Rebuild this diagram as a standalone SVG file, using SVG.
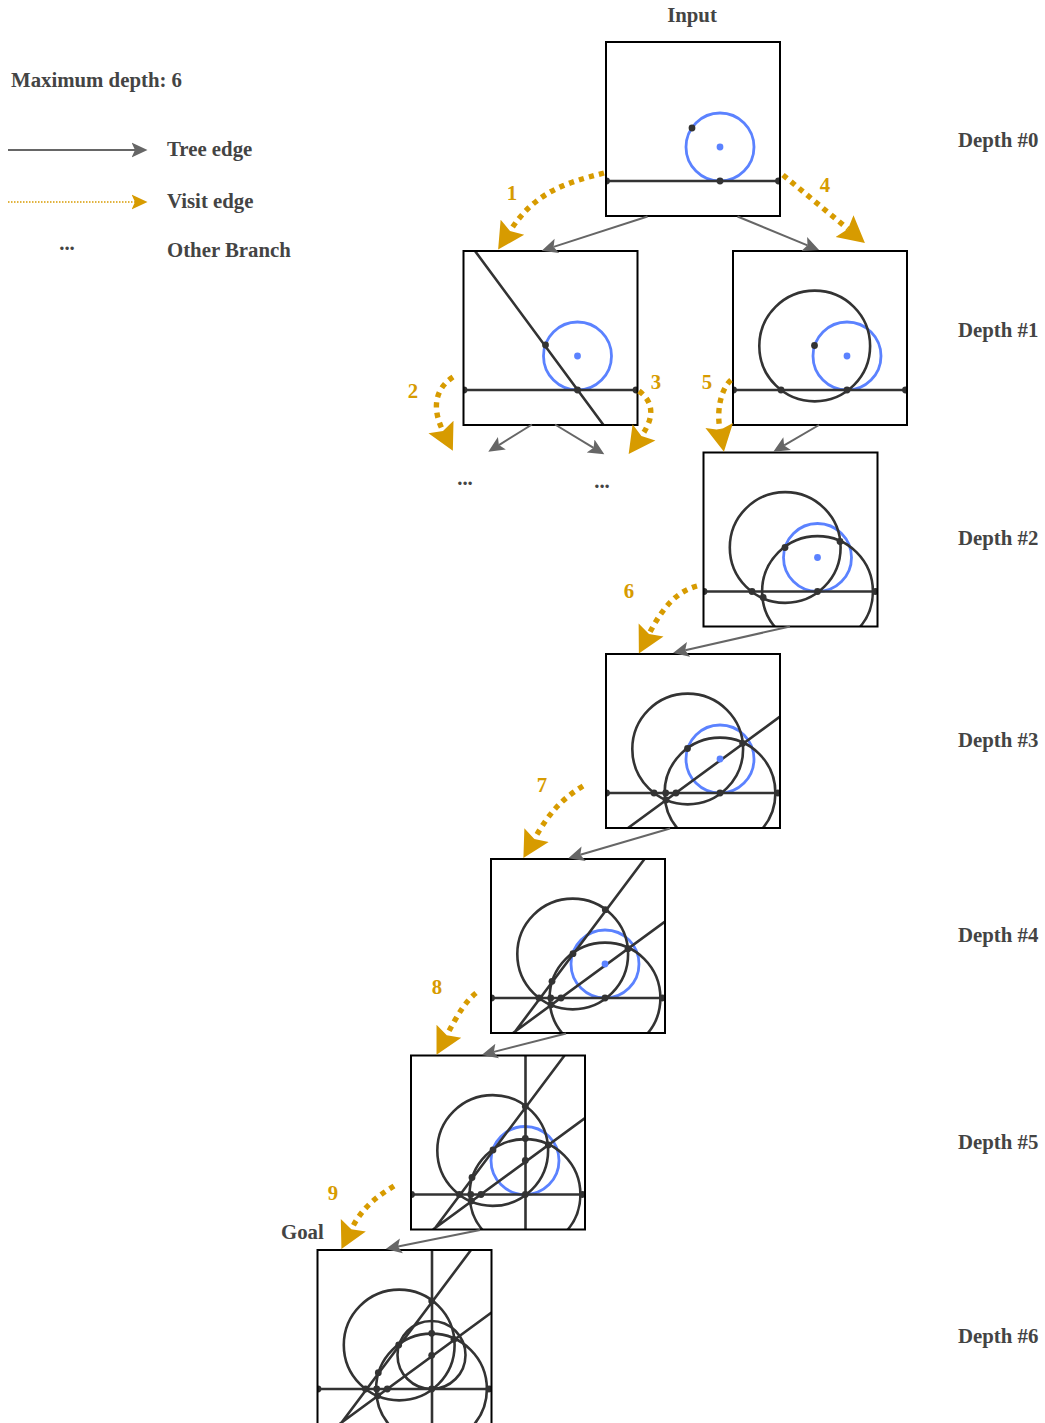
<svg xmlns="http://www.w3.org/2000/svg" width="1045" height="1423" viewBox="0 0 1045 1423">
<style>
text{font-family:"Liberation Serif","Times New Roman",serif;font-weight:bold;font-size:20.8px;fill:#444}
.num{fill:#d79b00;text-anchor:middle}
.mid{text-anchor:middle}
.bg{fill:#fff;stroke:none}
.frame{fill:none;stroke:#000;stroke-width:2}
.k{fill:none;stroke:#333;stroke-width:2.6}
.b{fill:none;stroke:#5b82ff;stroke-width:2.8}
.d{fill:#333}
.bd{fill:#5b82ff}
.tree{fill:none;stroke:#666;stroke-width:2;marker-end:url(#tree)}
.visit{fill:none;stroke:#d79b00;stroke-width:5.4;stroke-dasharray:5.2 5.2;marker-end:url(#visit)}
.mini{fill:none;stroke:#d79b00;stroke-width:1.5;stroke-dasharray:1.5 1.5;marker-end:url(#mini)}
circle.d,circle.bd{r:3.4px}
</style>
<defs>
<clipPath id="p"><rect x="0" y="0" width="174" height="174"/></clipPath>
<marker id="tree" markerUnits="userSpaceOnUse" markerWidth="18" markerHeight="18" viewBox="0 0 18 18" refX="3.5" refY="9" orient="auto"><path d="M0 1.5L16 9L0 16.5L3.5 9Z" fill="#666"/></marker>
<marker id="mini" markerUnits="userSpaceOnUse" markerWidth="18" markerHeight="18" viewBox="0 0 18 18" refX="3.5" refY="9" orient="auto"><path d="M0 1.5L16 9L0 16.5L3.5 9Z" fill="#d79b00"/></marker>
<marker id="visit" markerUnits="userSpaceOnUse" markerWidth="30" markerHeight="30" viewBox="0 0 30 30" refX="4.5" refY="15" orient="auto"><path d="M0 1L26.5 15L0 29L4.5 15Z" fill="#d79b00"/></marker>
</defs>

<g id="legend">
<text x="11" y="86.5">Maximum depth: 6</text>
<path class="tree" d="M8 150H135"/>
<path class="mini" d="M8 202H135"/>
<text class="mid" x="67" y="250">...</text>
<text x="167" y="156">Tree edge</text>
<text x="167" y="208">Visit edge</text>
<text x="167" y="257">Other Branch</text>
</g>

<g id="labels">
<text class="mid" x="692" y="22">Input</text>
<text x="281" y="1239">Goal</text>
<text x="958" y="147">Depth #0</text>
<text x="958" y="337">Depth #1</text>
<text x="958" y="545">Depth #2</text>
<text x="958" y="747">Depth #3</text>
<text x="958" y="942">Depth #4</text>
<text x="958" y="1149">Depth #5</text>
<text x="958" y="1343">Depth #6</text>
<text class="mid" x="465" y="485">...</text>
<text class="mid" x="602" y="488">...</text>
</g>

<g id="node-input" transform="translate(606 42)">
<rect class="bg" width="174" height="174"/>
<g clip-path="url(#p)">
<circle class="b" cx="114" cy="105" r="34"/>
<path class="k" d="M0 139H174"/>
<circle class="bd" cx="114" cy="105" r="3"/>
<circle class="d" cx="86" cy="86" r="3"/><circle class="d" cx="114" cy="139" r="3"/><circle class="d" cx="0.5" cy="139" r="3"/><circle class="d" cx="172.5" cy="139" r="3"/>
</g>
<rect class="frame" width="174" height="174"/>
</g>

<g id="node-1a" transform="translate(463.5 251)">
<rect class="bg" width="174" height="174"/>
<g clip-path="url(#p)">
<circle class="b" cx="114" cy="105" r="34"/>
<path class="k" d="M0 139H174M11.5 0L140 174"/>
<circle class="bd" cx="114" cy="105" r="3"/>
<circle class="d" cx="82" cy="94" r="3"/><circle class="d" cx="114" cy="139" r="3"/><circle class="d" cx="0.5" cy="139" r="3"/><circle class="d" cx="172.5" cy="139" r="3"/>
</g>
<rect class="frame" width="174" height="174"/>
</g>

<g id="node-1b" transform="translate(733 251)">
<rect class="bg" width="174" height="174"/>
<g clip-path="url(#p)">
<circle class="b" cx="114" cy="105" r="34"/>
<circle class="k" cx="81.7" cy="95" r="55.4"/>
<path class="k" d="M0 139H174"/>
<circle class="bd" cx="114" cy="105" r="3"/>
<circle class="d" cx="81.5" cy="94.5" r="3"/><circle class="d" cx="48" cy="139" r="3"/><circle class="d" cx="114" cy="139" r="3"/><circle class="d" cx="0.5" cy="139" r="3"/><circle class="d" cx="172.5" cy="139" r="3"/>
</g>
<rect class="frame" width="174" height="174"/>
</g>

<g id="node-2" transform="translate(703.5 452.5)">
<rect class="bg" width="174" height="174"/>
<g clip-path="url(#p)">
<circle class="b" cx="114" cy="105" r="34"/>
<circle class="k" cx="81.7" cy="95" r="55.4"/>
<circle class="k" cx="114" cy="139" r="55.4"/>
<path class="k" d="M0 139H174"/>
<circle class="bd" cx="114" cy="105" r="3"/>
<circle class="d" cx="81.5" cy="95" r="3"/><circle class="d" cx="48.5" cy="139" r="3"/><circle class="d" cx="59.7" cy="145" r="3"/><circle class="d" cx="114" cy="139" r="3"/><circle class="d" cx="136.5" cy="89" r="3"/><circle class="d" cx="0.5" cy="139" r="3"/><circle class="d" cx="172" cy="139" r="3"/>
</g>
<rect class="frame" width="174" height="174"/>
</g>

<g id="node-3" transform="translate(606 654)">
<rect class="bg" width="174" height="174"/>
<g clip-path="url(#p)">
<circle class="b" cx="114" cy="105" r="34"/>
<circle class="k" cx="81.7" cy="95" r="55.4"/>
<circle class="k" cx="114" cy="139" r="55.4"/>
<path class="k" d="M0 139H174M174 62.6L22 174"/>
<circle class="bd" cx="114" cy="105" r="3"/>
<circle class="d" cx="81.5" cy="94.5" r="3"/><circle class="d" cx="48" cy="139" r="3"/><circle class="d" cx="59.7" cy="139" r="3"/><circle class="d" cx="70" cy="139" r="3"/><circle class="d" cx="60" cy="146" r="3"/><circle class="d" cx="114" cy="139" r="3"/><circle class="d" cx="136.7" cy="89.3" r="3"/><circle class="d" cx="0.5" cy="139" r="3"/><circle class="d" cx="172" cy="139" r="3"/>
</g>
<rect class="frame" width="174" height="174"/>
</g>

<g id="node-4" transform="translate(491 859)">
<rect class="bg" width="174" height="174"/>
<g clip-path="url(#p)">
<circle class="b" cx="114" cy="105" r="34"/>
<circle class="k" cx="81.7" cy="95" r="55.4"/>
<circle class="k" cx="114" cy="139" r="55.4"/>
<path class="k" d="M0 139H174M174 62.6L22 174M153.5 0L23 174"/>
<circle class="bd" cx="114" cy="105" r="3"/>
<circle class="d" cx="114.3" cy="50.7" r="3"/><circle class="d" cx="82" cy="94.7" r="3"/><circle class="d" cx="61" cy="122.3" r="3"/><circle class="d" cx="48" cy="139" r="3"/><circle class="d" cx="59.7" cy="139" r="3"/><circle class="d" cx="70" cy="139" r="3"/><circle class="d" cx="60" cy="145.7" r="3"/><circle class="d" cx="114" cy="139" r="3"/><circle class="d" cx="137" cy="89.7" r="3"/><circle class="d" cx="0.5" cy="139" r="3"/><circle class="d" cx="171.5" cy="139" r="3"/>
</g>
<rect class="frame" width="174" height="174"/>
</g>

<g id="node-5" transform="translate(411 1055.5)">
<rect class="bg" width="174" height="174"/>
<g clip-path="url(#p)">
<circle class="b" cx="114" cy="105" r="34"/>
<circle class="k" cx="81.7" cy="95" r="55.4"/>
<circle class="k" cx="114" cy="139" r="55.4"/>
<path class="k" d="M0 139H174M174 62.6L22 174M153.5 0L23 174M114.5 0V174"/>
<circle class="d" cx="114.3" cy="51" r="3"/><circle class="d" cx="114.3" cy="83" r="3"/><circle class="d" cx="114.3" cy="105" r="3"/><circle class="d" cx="82" cy="94.5" r="3"/><circle class="d" cx="61" cy="122" r="3"/><circle class="d" cx="48.3" cy="139" r="3"/><circle class="d" cx="59.7" cy="139" r="3"/><circle class="d" cx="70" cy="139" r="3"/><circle class="d" cx="60.3" cy="145.5" r="3"/><circle class="d" cx="114.3" cy="139" r="3"/><circle class="d" cx="137.3" cy="89.5" r="3"/><circle class="d" cx="0.5" cy="139" r="3"/><circle class="d" cx="171.5" cy="139" r="3"/>
</g>
<rect class="frame" width="174" height="174"/>
</g>

<g id="node-6" transform="translate(317.5 1250)">
<rect class="bg" width="174" height="174"/>
<g clip-path="url(#p)">
<circle class="k" cx="114" cy="105" r="34"/>
<circle class="k" cx="81.7" cy="95" r="55.4"/>
<circle class="k" cx="114" cy="139" r="55.4"/>
<path class="k" d="M0 139H174M174 62.6L22 174M153.5 0L23 174M114.5 0V174"/>
<circle class="d" cx="114.2" cy="51" r="3"/><circle class="d" cx="114.2" cy="83.3" r="3"/><circle class="d" cx="114.2" cy="105.3" r="3"/><circle class="d" cx="81.2" cy="95" r="3"/><circle class="d" cx="60.8" cy="122.7" r="3"/><circle class="d" cx="48" cy="139" r="3"/><circle class="d" cx="59.2" cy="139" r="3"/><circle class="d" cx="69.8" cy="139" r="3"/><circle class="d" cx="60.2" cy="145.7" r="3"/><circle class="d" cx="114.2" cy="139" r="3"/><circle class="d" cx="136.5" cy="89.3" r="3"/><circle class="d" cx="0.5" cy="139" r="3"/><circle class="d" cx="171.5" cy="139" r="3"/>
</g>
<rect class="frame" width="174" height="174"/>
</g>

<g id="connectors">
<path class="tree" d="M647.5 216.5L553.6 246.9"/>
<path class="tree" d="M737.5 216.5L807.5 245.3"/>
<path class="tree" d="M532 424.5L498.9 445.1"/>
<path class="tree" d="M555 424.5L593.6 447.8"/>
<path class="tree" d="M819 425L784.1 445.4"/>
<path class="tree" d="M790 626.5L685.2 650.2"/>
<path class="tree" d="M670 828.5L580.3 854.7"/>
<path class="tree" d="M566 1033.5L493.8 1051.9"/>
<path class="tree" d="M480 1230L398 1246.5"/>
<path class="visit" d="M604 173C565 183 535 192 510 231"/>
<path class="visit" d="M453 377C436 388 431 407 443 431"/>
<path class="visit" d="M639 391C651 400 657 414 641.4 436"/>
<path class="visit" d="M783 175L848 229"/>
<path class="visit" d="M731 380C722 388 716 408 720 430"/>
<path class="visit" d="M697 586C676 592 663 607 649 634"/>
<path class="visit" d="M583 786C560 800 548 815 534.3 839"/>
<path class="visit" d="M476 993C465 1002 458 1014 446.8 1035.2"/>
<path class="visit" d="M394 1186C378 1196 363 1206 351.3 1229.3"/>
</g>

<g id="visit-labels">
<text class="num" x="512" y="200">1</text>
<text class="num" x="413" y="398">2</text>
<text class="num" x="656" y="389">3</text>
<text class="num" x="825" y="192">4</text>
<text class="num" x="707" y="389">5</text>
<text class="num" x="629" y="598">6</text>
<text class="num" x="542" y="792">7</text>
<text class="num" x="437" y="994">8</text>
<text class="num" x="333" y="1200">9</text>
</g>
</svg>
